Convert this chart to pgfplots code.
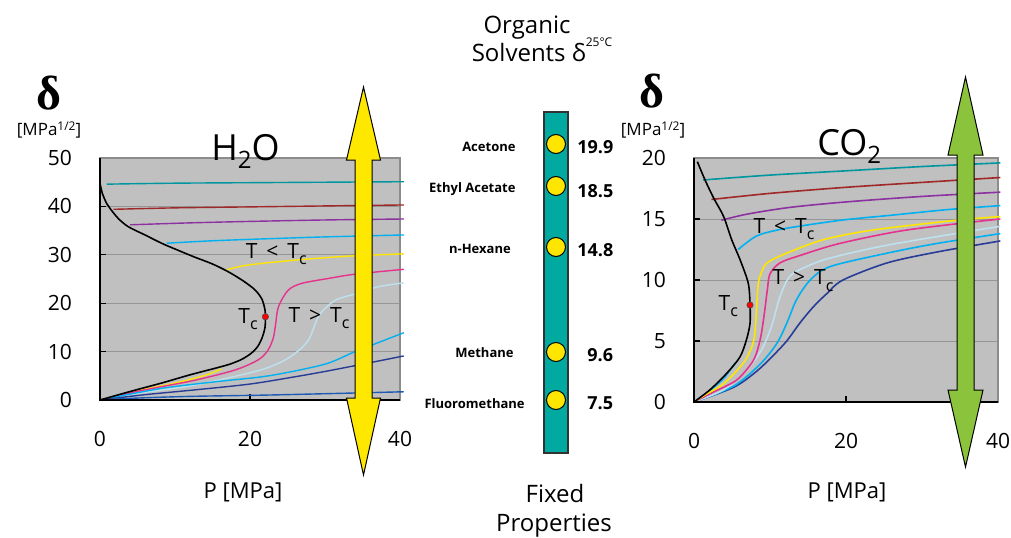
\documentclass[border=0pt]{standalone}
\usepackage{fontspec}
\setmainfont{Open Sans}
\newfontfamily\serifb{Liberation Serif}
\usepackage{pgfplots}
\pgfplotsset{compat=1.18}
\definecolor{bgGray}{RGB}{192,192,192}
\definecolor{gridGray}{RGB}{150,150,150}
\definecolor{edgeGray}{RGB}{140,140,140}
\definecolor{cTeal}{RGB}{0,150,160}
\definecolor{cBrown}{RGB}{160,40,40}
\definecolor{cPurple}{RGB}{140,50,160}
\definecolor{cLBlue}{RGB}{0,176,240}
\definecolor{cYellow}{RGB}{255,230,0}
\definecolor{cPink}{RGB}{230,50,140}
\definecolor{cPale}{RGB}{190,225,240}
\definecolor{cNavy}{RGB}{40,60,150}
\definecolor{cBlue}{RGB}{30,90,180}
\definecolor{barTeal}{RGB}{0,170,160}
\definecolor{dotYellow}{RGB}{255,230,0}
\definecolor{arrYellow}{RGB}{255,232,0}
\definecolor{arrGreen}{RGB}{140,195,60}
\pgfplotsset{
  gaxis/.style={
    scale only axis, anchor=south west, clip=false,
    axis background/.style={fill=bgGray},
    axis line style={draw=edgeGray, line width=0.6pt},
    ymajorgrids, grid style={draw=gridGray, line width=0.5pt},
    tick align=inside, xtick pos=bottom, ytick pos=left,
    major tick length=3pt, tick style={black, line width=0.6pt},
    yticklabel style={xshift=-10.5pt},
    xticklabel style={yshift=-12pt},
    tick label style={font=\fontsize{10.5}{12}\selectfont},
    /pgf/number format/assume math mode=true,
    every axis plot/.append style={line width=0.7pt, smooth, no markers},
  }
}
\newcommand{\Tsub}[1]{T\raisebox{-0.55ex}{\fontsize{8}{9}\selectfont #1}}
\begin{document}
\begin{tikzpicture}[x=0.5pt,y=0.5pt]
\path[use as bounding box] (0,0) rectangle (1011,537);
% ---------------- H2O ----------------
\begin{axis}[gaxis, at={(50pt,68.5pt)}, width=150pt, height=121pt,
  xmin=0, xmax=40, ymin=0, ymax=50,
  xtick={0,20,40}, ytick={0,10,20,30,40,50}]
\addplot[cTeal] coordinates {(0.9,44.6)(10,44.8)(20,44.9)(30,45.0)(40.5,45.1)};
\addplot[cBrown] coordinates {(1.8,39.4)(10,39.7)(20,39.9)(30,40.1)(40.5,40.3)};
\addplot[cPurple] coordinates {(4,36.2)(12,36.6)(20,36.9)(30,37.2)(40.5,37.4)};
\addplot[cLBlue] coordinates {(8.9,32.4)(15,32.9)(22,33.3)(30,33.7)(40.5,34.1)};
\addplot[cYellow] coordinates {(16.9,26.9)(19,27.7)(22,28.3)(26,28.9)(30,29.4)(34,29.8)(40.5,30.2)};
\addplot[cYellow] coordinates {(0,0)(5,1.9)(10,3.5)(14,5.1)(16.2,6.4)};
\addplot[cPink] coordinates {(0,0)(3.8,1.4)(8,2.7)(12.7,4.1)(18,6.2)(21.1,8.3)(22.4,10.3)(23.1,12.8)(23.4,15.5)(23.8,19.3)(25.1,22.7)(26.9,24.1)(30.4,25.1)(34,26)(40.5,27)};
\addplot[cPale] coordinates {(0,0)(6,1.6)(12.7,3.1)(20.7,5.9)(23.8,7.6)(26,9.6)(27.8,12.4)(29.1,17.2)(30.2,19.2)(31.6,20.8)(34,21.9)(37.1,23.4)(40.5,24.2)};
\addplot[cLBlue] coordinates {(0,0)(8.2,2.4)(15,3.7)(21.6,4.8)(26,6)(30.4,7.6)(34,10)(37,11.8)(40.5,13.9)};
\addplot[cNavy] coordinates {(0,0)(6,1.1)(12.7,2.1)(20,3.3)(26,4.8)(30,5.9)(34,7.1)(40.5,9.1)};
\addplot[cBlue] coordinates {(0,0)(5,0.4)(12,0.75)(21.6,1.0)(30,1.3)(40.5,1.7)};
\addplot[black, line width=0.8pt] coordinates {(0,44.8)(0.31,42.7)(0.89,40.6)(1.33,39.6)(2.44,37.5)(3.78,35.8)(6,34.1)(8.2,32.4)(10,31.2)(12.5,29.6)(15,28.1)(17.1,26.5)(19.2,24.5)(20.7,22.7)(21.6,20.8)(22,18.6)(22.05,17.2)(22,15)(21.6,12.8)(21.0,11)(20.2,9.7)(18.9,8.4)(17.3,7.4)(15.7,6.7)(12,5.2)(8.2,3.5)(4,1.75)(0,0)};
\addplot[only marks, mark=*, mark size=1.6pt, mark options={fill=red, draw=black!70, line width=0.3pt}] coordinates {(22.05,17.2)};
\draw[black, line width=0.7pt] (rel axis cs:0,1) -- (rel axis cs:0,0) -- (rel axis cs:1,0);
\node[anchor=base west, inner sep=0, font=\fontsize{10.5}{12}\selectfont] at (axis cs:19.4,29.3) {T \,<\, \Tsub{c}};
\node[anchor=base west, inner sep=0, font=\fontsize{10.5}{12}\selectfont] at (axis cs:18.4,15.9) {\Tsub{c}};
\node[anchor=base west, inner sep=0, font=\fontsize{10.5}{12}\selectfont] at (axis cs:25.1,16.1) {T \,>\, \Tsub{c}};
\end{axis}
% ---------------- CO2 ----------------
\begin{axis}[gaxis, at={(347pt,67.5pt)}, width=152pt, height=122pt,
  xmin=0, xmax=40, ymin=0, ymax=20,
  xtick={0,20,40}, ytick={0,5,10,15,20},
  every axis plot/.append style={line width=0.8pt}]
\addplot[cTeal] coordinates {(1.2,18.2)(10,18.6)(20,18.95)(30,19.3)(40.3,19.6)};
\addplot[cBrown] coordinates {(2.3,16.6)(10,17.1)(20,17.6)(30,18.0)(40.3,18.4)};
\addplot[cPurple] coordinates {(3.6,14.9)(7,15.4)(12.6,15.95)(20,16.4)(30,16.85)(40.3,17.2)};
\addplot[cLBlue] coordinates {(5.8,12.5)(8.2,13.6)(11,14.1)(14.8,14.5)(20,14.95)(25.8,15.3)(33,15.75)(40.3,16.1)};
\addplot[cLBlue] coordinates {(0,0)(2.5,1.15)(4,2.0)(5.4,3.2)};
\addplot[cNavy] coordinates {(0,0)(5.2,1.2)(8.2,2.5)(10.4,3.8)(12.2,5.0)(13.9,6.45)(15.7,7.8)(17.5,8.9)(19.6,10.0)(25.4,11.4)(32,12.3)(40.3,13.2)};
\addplot[cLBlue] coordinates {(0,0)(5.2,1.3)(8.7,3.1)(10.9,4.8)(12.2,6.45)(13.5,8.4)(15.3,10.0)(17.9,11.1)(25.4,12.2)(32,13)(40.3,13.8)};
\addplot[cPale] coordinates {(0,0)(3.9,1.0)(6.9,2.6)(8.9,4.3)(10.2,6.2)(11.3,8.6)(12.6,10.3)(14.8,11.1)(17.9,11.8)(25.8,12.9)(40.3,14.4)};
\addplot[cPink] coordinates {(0,0)(2.5,0.8)(5.6,1.8)(7.8,3.4)(8.7,5.1)(9.2,7.0)(9.65,9.2)(10,10.5)(11.3,11.4)(13.9,12.0)(19.2,13)(28,14.1)(40.3,15)};
\addplot[cYellow] coordinates {(0,0)(1.5,0.6)(3.9,1.5)(6.5,3.2)(7.6,4.5)(8.0,5.6)(8.25,7.8)(8.46,9.7)(8.8,10.5)(9.6,11.4)(12.2,12.2)(17,13.3)(23.6,14.1)(34.6,14.9)(40.3,15.2)};
\addplot[black, line width=0.8pt] coordinates {(0.44,19.7)(1.45,18.2)(2.6,16.7)(3.9,15.2)(4.96,13.3)(6.1,11.6)(7.15,9.7)(7.37,7.95)(7.37,6.45)(6.9,5.1)(6.05,3.7)(4.3,2.35)(2.1,1.0)(0,0)};
\addplot[only marks, mark=*, mark size=1.6pt, mark options={fill=red, draw=black!70, line width=0.3pt}] coordinates {(7.37,7.95)};
\draw[black, line width=0.7pt] (rel axis cs:0,1) -- (rel axis cs:0,0) -- (rel axis cs:1,0);
\node[anchor=base west, inner sep=0, font=\fontsize{10.5}{12}\selectfont] at (axis cs:7.8,13.85) {T \,<\, \Tsub{c}};
\node[anchor=base west, inner sep=0, font=\fontsize{10.5}{12}\selectfont] at (axis cs:3.2,7.5) {\Tsub{c}};
\node[anchor=base west, inner sep=0, font=\fontsize{10.5}{12}\selectfont] at (axis cs:10.3,9.6) {T \,>\, \Tsub{c}};
\end{axis}
% ---------------- centre column ----------------
\begin{axis}[at={(272pt,42pt)}, anchor=south west, scale only axis, width=12pt, height=170.5pt,
  xmin=0, xmax=1, ymin=0, ymax=341, clip=false,
  axis background/.style={fill=barTeal},
  axis line style={draw=black!80, line width=0.7pt}, ticks=none]
\addplot[only marks, mark=*, mark size=4.75pt, mark options={fill=dotYellow, draw=black, line width=0.5pt}] coordinates {(0.5,309)(0.5,267)(0.5,206)(0.5,101)(0.5,53)};
\begin{scope}[font=\bfseries\fontsize{6.5}{8}\selectfont]
\node[anchor=east, inner sep=0] at (axis cs:-1.17,306) {Acetone};
\node[anchor=east, inner sep=0] at (axis cs:-1.17,264) {Ethyl Acetate};
\node[anchor=east, inner sep=0] at (axis cs:-1.37,204) {n-Hexane};
\node[anchor=east, inner sep=0] at (axis cs:-1.25,100) {Methane};
\node[anchor=east, inner sep=0] at (axis cs:-0.79,49) {Fluoromethane};
\end{scope}
\begin{scope}[font=\bfseries\fontsize{9}{10}\selectfont]
\node[anchor=west, inner sep=0] at (axis cs:1.375,306) {19.9};
\node[anchor=west, inner sep=0] at (axis cs:1.375,262) {18.5};
\node[anchor=west, inner sep=0] at (axis cs:1.375,203) {14.8};
\node[anchor=west, inner sep=0] at (axis cs:1.79,98) {9.6};
\node[anchor=west, inner sep=0] at (axis cs:1.79,50) {7.5};
\end{scope}
\end{axis}
% ---------------- arrows ----------------
\draw[fill=arrYellow, draw=black, line width=0.5pt]
 (363.5,450) -- (380.5,377) -- (372,377) -- (372,139) -- (380.5,139) -- (363.5,62)
 -- (346.5,139) -- (355,139) -- (355,377) -- (346.5,377) -- cycle;
\draw[fill=arrGreen, draw=black, line width=0.5pt]
 (965.5,460) -- (983,382) -- (974,382) -- (974,147) -- (983,147) -- (965.5,70)
 -- (948,147) -- (957,147) -- (957,382) -- (948,382) -- cycle;
% ---------------- texts ----------------
\node[font=\serifb\bfseries\fontsize{24}{26}\selectfont, inner sep=0] at (49,444) {δ};
\node[font=\serifb\bfseries\fontsize{24}{26}\selectfont, inner sep=0] at (652,446) {δ};
\node[font=\fontsize{8.5}{10}\selectfont, inner sep=0] at (49,407) {[MPa\raisebox{0.6ex}{\fontsize{6}{7}\selectfont 1/2}]};
\node[font=\fontsize{8.5}{10}\selectfont, inner sep=0] at (653,407) {[MPa\raisebox{0.6ex}{\fontsize{6}{7}\selectfont 1/2}]};
\node[anchor=base west, inner sep=0, font=\fontsize{18}{20}\selectfont] at (211,377) {H\raisebox{-0.45ex}{\fontsize{12}{13}\selectfont 2}O};
\node[anchor=base west, inner sep=0, font=\fontsize{18}{20}\selectfont] at (817,382) {CO\raisebox{-0.45ex}{\fontsize{12}{13}\selectfont 2}};
\node[anchor=base, inner sep=0, font=\fontsize{11}{12}\selectfont] at (243,39) {P [MPa]};
\node[anchor=base, inner sep=0, font=\fontsize{11}{12}\selectfont] at (847,39) {P [MPa]};
\node[anchor=base, inner sep=0, font=\fontsize{12}{14}\selectfont] at (527,503) {Organic};
\node[anchor=base, inner sep=0, font=\fontsize{12}{14}\selectfont] at (542,475) {Solvents δ\raisebox{1.2ex}{\fontsize{6}{7}\selectfont 25°C}};
\node[anchor=base, inner sep=0, font=\fontsize{12}{14}\selectfont] at (555,35) {Fixed};
\node[anchor=base, inner sep=0, font=\fontsize{12}{14}\selectfont] at (554,6) {Properties};
\end{tikzpicture}
\end{document}
